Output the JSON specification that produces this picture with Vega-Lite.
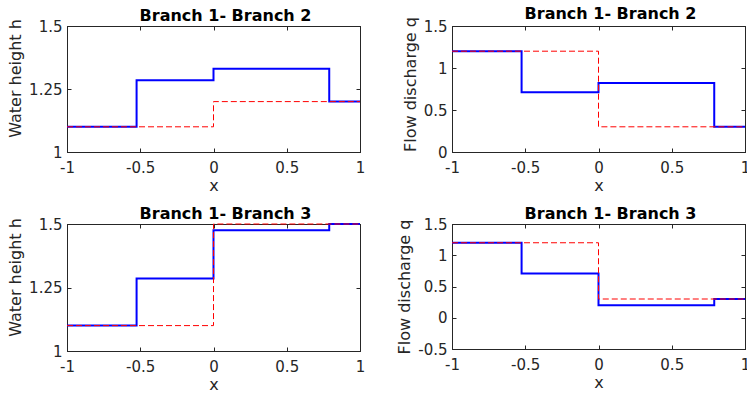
{
  "$schema": "https://vega.github.io/schema/vega-lite/v6.json",
  "padding": {"left": 7, "top": 5, "right": 0, "bottom": 0},
  "background": "white",
  "config": {
    "font": "DejaVu Sans",
    "view": {"stroke": "#262626", "strokeWidth": 1},
    "axis": {
      "grid": false,
      "domainColor": "#262626",
      "tickColor": "#262626",
      "labelColor": "#262626",
      "titleColor": "#262626",
      "labelFontSize": 15,
      "titleFontSize": 16,
      "titleFontWeight": "normal",
      "tickSize": -4,
      "labelFlush": false
    },
    "title": {"fontSize": 16, "fontWeight": "bold", "color": "black", "offset": -5, "dx": 12}
  },
  "data": {
    "values": [
      {"p": "h2", "s": "blue", "x": -1, "y": 1.1},
      {"p": "h2", "s": "blue", "x": -0.525, "y": 1.285},
      {"p": "h2", "s": "blue", "x": 0, "y": 1.33},
      {"p": "h2", "s": "blue", "x": 0.79, "y": 1.2},
      {"p": "h2", "s": "blue", "x": 1, "y": 1.2},
      {"p": "h2", "s": "red", "x": -1, "y": 1.1},
      {"p": "h2", "s": "red", "x": 0, "y": 1.2},
      {"p": "h2", "s": "red", "x": 1, "y": 1.2},
      {"p": "q2", "s": "blue", "x": -1, "y": 1.2},
      {"p": "q2", "s": "blue", "x": -0.525, "y": 0.71},
      {"p": "q2", "s": "blue", "x": 0, "y": 0.82},
      {"p": "q2", "s": "blue", "x": 0.79, "y": 0.3},
      {"p": "q2", "s": "blue", "x": 1, "y": 0.3},
      {"p": "q2", "s": "red", "x": -1, "y": 1.2},
      {"p": "q2", "s": "red", "x": 0, "y": 0.3},
      {"p": "q2", "s": "red", "x": 1, "y": 0.3},
      {"p": "h3", "s": "blue", "x": -1, "y": 1.1},
      {"p": "h3", "s": "blue", "x": -0.525, "y": 1.285},
      {"p": "h3", "s": "blue", "x": 0, "y": 1.475},
      {"p": "h3", "s": "blue", "x": 0.79, "y": 1.5},
      {"p": "h3", "s": "blue", "x": 1, "y": 1.5},
      {"p": "h3", "s": "red", "x": -1, "y": 1.1},
      {"p": "h3", "s": "red", "x": 0, "y": 1.5},
      {"p": "h3", "s": "red", "x": 1, "y": 1.5},
      {"p": "q3", "s": "blue", "x": -1, "y": 1.2},
      {"p": "q3", "s": "blue", "x": -0.525, "y": 0.71},
      {"p": "q3", "s": "blue", "x": 0, "y": 0.2},
      {"p": "q3", "s": "blue", "x": 0.79, "y": 0.3},
      {"p": "q3", "s": "blue", "x": 1, "y": 0.3},
      {"p": "q3", "s": "red", "x": -1, "y": 1.2},
      {"p": "q3", "s": "red", "x": 0, "y": 0.3},
      {"p": "q3", "s": "red", "x": 1, "y": 0.3}
    ]
  },
  "columns": 2,
  "bounds": "flush",
  "spacing": {"row": 72, "column": 92},
  "concat": [
    {
      "title": "Branch 1- Branch 2",
      "width": 293, "height": 126,
      "transform": [{"filter": "datum.p === 'h2'"}],
      "resolve": {"axis": {"x": "independent", "y": "independent"}},
      "layer": [
        {
          "transform": [{"filter": "datum.s === 'blue'"}],
          "mark": {"type": "line", "interpolate": "step-after", "color": "#0000ff", "strokeWidth": 2},
          "encoding": {
            "x": {"field": "x", "type": "quantitative", "scale": {"domain": [-1, 1], "nice": false}, "axis": {"values": [-1, -0.5, 0, 0.5, 1], "labelExpr": "toString(datum.value)", "title": "x", "labelPadding": 12, "titlePadding": 2}},
            "y": {"field": "y", "type": "quantitative", "scale": {"domain": [1, 1.5], "nice": false, "zero": false}, "axis": {"values": [1, 1.25, 1.5], "labelExpr": "toString(datum.value)", "title": "Water height h", "labelPadding": 9, "titlePadding": 5, "titleY": 52}}
          }
        },
        {
          "transform": [{"filter": "datum.s === 'red'"}],
          "mark": {"type": "line", "interpolate": "step-after", "color": "#ff0000", "strokeWidth": 1, "strokeDash": [6, 3]},
          "encoding": {
            "x": {"field": "x", "type": "quantitative", "axis": {"orient": "top", "values": [-1, -0.5, 0, 0.5, 1], "labels": false, "title": null}},
            "y": {"field": "y", "type": "quantitative", "axis": {"orient": "right", "values": [1, 1.25, 1.5], "labels": false, "title": null}}
          }
        }
      ]
    },
    {
      "title": "Branch 1- Branch 2",
      "width": 293, "height": 126,
      "transform": [{"filter": "datum.p === 'q2'"}],
      "resolve": {"axis": {"x": "independent", "y": "independent"}},
      "layer": [
        {
          "transform": [{"filter": "datum.s === 'blue'"}],
          "mark": {"type": "line", "interpolate": "step-after", "color": "#0000ff", "strokeWidth": 2},
          "encoding": {
            "x": {"field": "x", "type": "quantitative", "scale": {"domain": [-1, 1], "nice": false}, "axis": {"values": [-1, -0.5, 0, 0.5, 1], "labelExpr": "toString(datum.value)", "title": "x", "labelPadding": 12, "titlePadding": 2}},
            "y": {"field": "y", "type": "quantitative", "scale": {"domain": [0, 1.5], "nice": false}, "axis": {"values": [0, 0.5, 1, 1.5], "labelExpr": "toString(datum.value)", "title": "Flow discharge q", "labelPadding": 9, "titlePadding": 5, "titleY": 58}}
          }
        },
        {
          "transform": [{"filter": "datum.s === 'red'"}],
          "mark": {"type": "line", "interpolate": "step-after", "color": "#ff0000", "strokeWidth": 1, "strokeDash": [6, 3]},
          "encoding": {
            "x": {"field": "x", "type": "quantitative", "axis": {"orient": "top", "values": [-1, -0.5, 0, 0.5, 1], "labels": false, "title": null}},
            "y": {"field": "y", "type": "quantitative", "axis": {"orient": "right", "values": [0, 0.5, 1, 1.5], "labels": false, "title": null}}
          }
        }
      ]
    },
    {
      "title": "Branch 1- Branch 3",
      "width": 293, "height": 127,
      "transform": [{"filter": "datum.p === 'h3'"}],
      "resolve": {"axis": {"x": "independent", "y": "independent"}},
      "layer": [
        {
          "transform": [{"filter": "datum.s === 'blue'"}],
          "mark": {"type": "line", "interpolate": "step-after", "color": "#0000ff", "strokeWidth": 2},
          "encoding": {
            "x": {"field": "x", "type": "quantitative", "scale": {"domain": [-1, 1], "nice": false}, "axis": {"values": [-1, -0.5, 0, 0.5, 1], "labelExpr": "toString(datum.value)", "title": "x", "labelPadding": 12, "titlePadding": 2}},
            "y": {"field": "y", "type": "quantitative", "scale": {"domain": [1, 1.5], "nice": false, "zero": false}, "axis": {"values": [1, 1.25, 1.5], "labelExpr": "toString(datum.value)", "title": "Water height h", "labelPadding": 9, "titlePadding": 5, "titleY": 53}}
          }
        },
        {
          "transform": [{"filter": "datum.s === 'red'"}],
          "mark": {"type": "line", "interpolate": "step-after", "color": "#ff0000", "strokeWidth": 1, "strokeDash": [6, 3]},
          "encoding": {
            "x": {"field": "x", "type": "quantitative", "axis": {"orient": "top", "values": [-1, -0.5, 0, 0.5, 1], "labels": false, "title": null}},
            "y": {"field": "y", "type": "quantitative", "axis": {"orient": "right", "values": [1, 1.25, 1.5], "labels": false, "title": null}}
          }
        }
      ]
    },
    {
      "title": "Branch 1- Branch 3",
      "width": 293, "height": 125,
      "transform": [{"filter": "datum.p === 'q3'"}],
      "resolve": {"axis": {"x": "independent", "y": "independent"}},
      "layer": [
        {
          "transform": [{"filter": "datum.s === 'blue'"}],
          "mark": {"type": "line", "interpolate": "step-after", "color": "#0000ff", "strokeWidth": 2},
          "encoding": {
            "x": {"field": "x", "type": "quantitative", "scale": {"domain": [-1, 1], "nice": false}, "axis": {"values": [-1, -0.5, 0, 0.5, 1], "labelExpr": "toString(datum.value)", "title": "x", "labelPadding": 12, "titlePadding": 2}},
            "y": {"field": "y", "type": "quantitative", "scale": {"domain": [-0.5, 1.5], "nice": false, "zero": false}, "axis": {"values": [-0.5, 0, 0.5, 1, 1.5], "labelExpr": "toString(datum.value)", "title": "Flow discharge q", "labelPadding": 9, "titlePadding": 5}}
          }
        },
        {
          "transform": [{"filter": "datum.s === 'red'"}],
          "mark": {"type": "line", "interpolate": "step-after", "color": "#ff0000", "strokeWidth": 1, "strokeDash": [6, 3]},
          "encoding": {
            "x": {"field": "x", "type": "quantitative", "axis": {"orient": "top", "values": [-1, -0.5, 0, 0.5, 1], "labels": false, "title": null}},
            "y": {"field": "y", "type": "quantitative", "axis": {"orient": "right", "values": [-0.5, 0, 0.5, 1, 1.5], "labels": false, "title": null}}
          }
        }
      ]
    }
  ]
}
